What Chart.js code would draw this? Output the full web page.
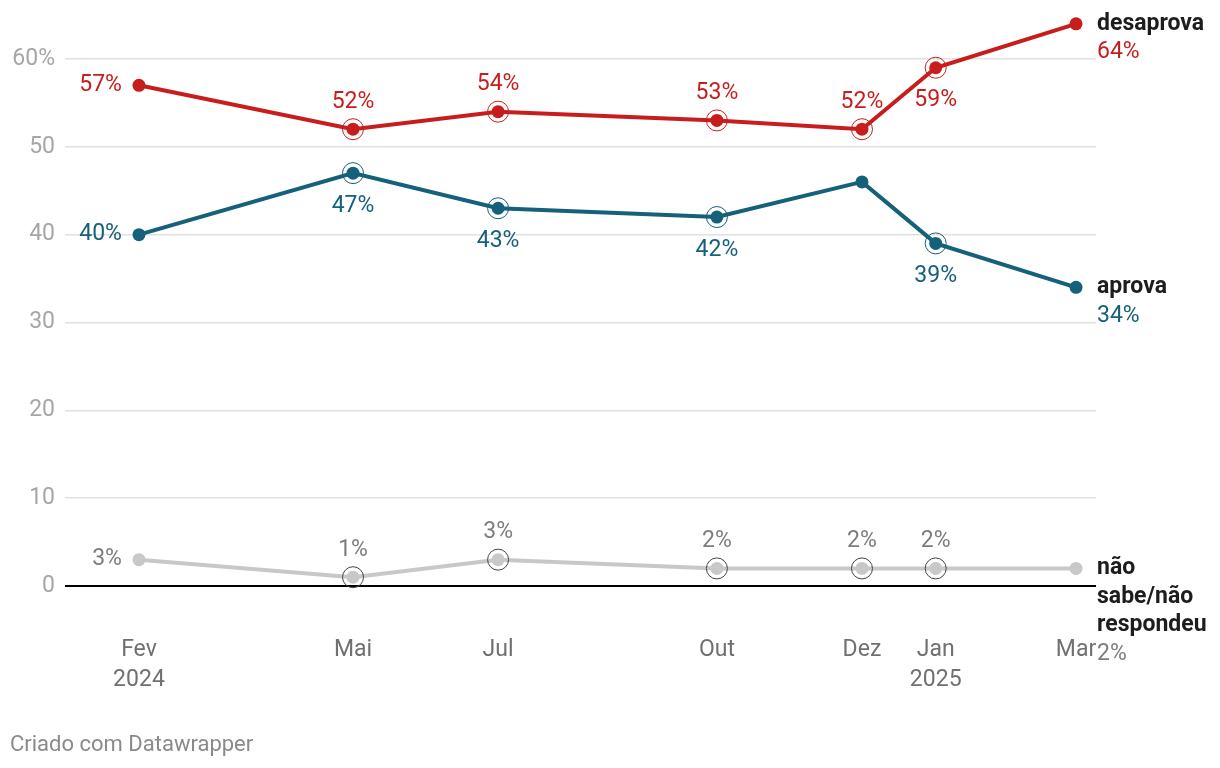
<!DOCTYPE html>
<html>
<head>
<meta charset="utf-8">
<script src="https://cdn.jsdelivr.net/npm/chart.js@4"></script>
<style>
  body { margin: 0; background: #fff; }
  #wrap { position: relative; width: 1220px; height: 768px; }
  #foot { position: absolute; left: 10px; top: 731px; font: 22px Roboto, sans-serif; color: #8a8a8a; }
</style>
</head>
<body>
<div id="wrap">
  <canvas id="linhas" width="1220" height="768"></canvas>
  <div id="foot">Criado com Datawrapper</div>
</div>
<script>
// datas das pesquisas
const dates = ['2024-02-01', '2024-05-01', '2024-07-01', '2024-10-01', '2024-12-01', '2025-01-01', '2025-03-01']
const tickLabels = [['Fev', '2024'], 'Mai', 'Jul', 'Out', 'Dez', ['Jan', '2025'], 'Mar']
const desaprova = [57, 52, 54, 53, 52, 59, 64]
const aprova = [40, 47, 43, 42, 46, 39, 34]
const naoSabe = [3, 1, 3, 2, 2, 2, 2]
const yTicks = [0, 10, 20, 30, 40, 50, 60]

const start = Date.UTC(2024, 1, 1)
const days = dates.map(d => {
  const p = d.split('-')
  return (Date.UTC(+p[0], +p[1] - 1, +p[2]) - start) / 86400000
})
const pts = arr => arr.map((v, i) => ({ x: days[i], y: v }))

const RED = '#c71e1d'
const TEAL = '#15607a'
const GRAY = '#c8c8c8'
const FONT = 23

const datasets = [
  {
    label: 'desaprova',
    data: pts(desaprova),
    borderColor: RED, backgroundColor: RED,
    textColor: RED, ringColor: RED,
    ring: [0, 1, 1, 1, 1, 1, 0],
    pos: ['left', 'above', 'above', 'above', 'above', 'below', null],
    endName: ['desaprova'],
  },
  {
    label: 'aprova',
    data: pts(aprova),
    borderColor: TEAL, backgroundColor: TEAL,
    textColor: TEAL, ringColor: TEAL,
    ring: [0, 1, 1, 1, 0, 1, 0],
    pos: ['left', 'below', 'below', 'below', null, 'below', null],
    endName: ['aprova'],
  },
  {
    label: 'não sabe/não respondeu',
    data: pts(naoSabe),
    borderColor: GRAY, backgroundColor: GRAY,
    textColor: '#7d7d7d', ringColor: '#444',
    ring: [0, 1, 1, 1, 1, 1, 0],
    pos: ['left', 'above', 'above', 'above', 'above', 'above', null],
    endName: ['não', 'sabe/não', 'respondeu'],
  },
]

const labelsPlugin = {
  id: 'labels',
  afterDatasetsDraw(chart) {
    const ctx = chart.ctx
    ctx.save()
    chart.data.datasets.forEach((ds, i) => {
      const meta = chart.getDatasetMeta(i)
      meta.data.forEach((p, j) => {
        if (ds.ring[j]) {
          ctx.beginPath()
          ctx.arc(p.x, p.y, 10.5, 0, Math.PI * 2)
          ctx.strokeStyle = ds.ringColor
          ctx.lineWidth = 1
          ctx.stroke()
        }
        const pos = ds.pos[j]
        if (!pos) return
        const txt = ds.data[j].y + '%'
        ctx.font = FONT + 'px Roboto'
        ctx.fillStyle = ds.textColor
        ctx.textBaseline = 'middle'
        if (pos === 'left') {
          ctx.textAlign = 'right'
          ctx.fillText(txt, p.x - 17, p.y)
        } else if (pos === 'above') {
          ctx.textAlign = 'center'
          ctx.fillText(txt, p.x, p.y - 27)
        } else {
          ctx.textAlign = 'center'
          ctx.fillText(txt, p.x, p.y + 33)
        }
      })
      // nome da serie no fim da linha
      const last = meta.data[meta.data.length - 1]
      const x = last.x + 21
      ctx.textAlign = 'left'
      ctx.textBaseline = 'middle'
      ctx.font = 'bold ' + FONT + 'px Roboto'
      ctx.fillStyle = '#1d1d1d'
      ds.endName.forEach((line, k) => {
        ctx.fillText(line, x, last.y + k * 28.5)
      })
      ctx.font = FONT + 'px Roboto'
      ctx.fillStyle = ds.textColor
      ctx.fillText(ds.data[ds.data.length - 1].y + '%', x, last.y + ds.endName.length * 28.5)
    })
    ctx.restore()
  }
}

datasets.forEach(ds => { ds.clip = false })

const config = {
  type: 'line',
  data: { datasets: datasets },
  options: {
    responsive: false,
    animation: false,
    layout: { padding: { top: 23, right: 124, bottom: 60, left: 0 } },
    plugins: { legend: { display: false }, tooltip: { enabled: false } },
    elements: {
      line: { borderWidth: 4, tension: 0 },
      point: { radius: 6.5, borderWidth: 0, hoverRadius: 6.5 },
    },
    scales: {
      x: {
        type: 'linear',
        min: -31.1,
        max: 402.4,
        grid: { display: false, drawTicks: false },
        border: { display: false },
        afterBuildTicks: scale => { scale.ticks = days.map(v => ({ value: v })) },
        afterFit: scale => { scale.height = 122 },
        ticks: {
          autoSkip: false,
          maxRotation: 0,
          padding: 49,
          color: '#707070',
          font: { family: 'Roboto', size: FONT, lineHeight: '30px' },
          callback: (v, i) => tickLabels[i],
        },
      },
      y: {
        min: 0,
        max: 64,
        grid: {
          drawTicks: false,
          color: c => c.tick.value === 0 ? '#000' : '#e1e1e1',
          lineWidth: c => c.tick.value === 0 ? 2 : 1.5,
        },
        border: { display: false },
        afterBuildTicks: scale => { scale.ticks = yTicks.map(v => ({ value: v })) },
        afterFit: scale => { scale.width = 65 },
        ticks: {
          padding: 10,
          color: '#a6a6a6',
          font: { family: 'Roboto', size: FONT },
          callback: v => v === 60 ? '60%' : v,
        },
      },
    },
  },
  plugins: [labelsPlugin],
}

const barsCtx = document.getElementById('linhas')
window.myLine = new Chart(barsCtx, config)
</script>
</body>
</html>
